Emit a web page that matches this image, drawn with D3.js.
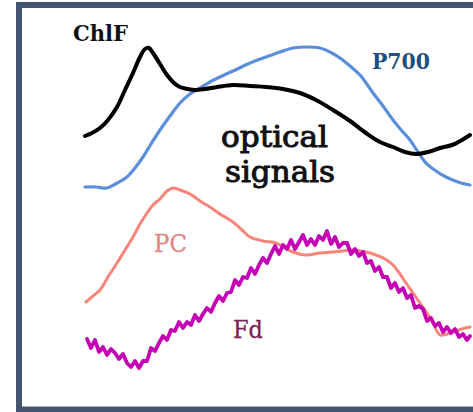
<!DOCTYPE html>
<html>
<head>
<meta http-equiv="Content-type" content="text/html; charset=utf-8">
<title>optical signals</title>
<script src="https://cdn.jsdelivr.net/npm/d3@7"></script>
<style>
  body { margin:0; background:#fff; }
  svg { display:block; }
</style>
</head>
<body>
<script>
  // time axis (arbitrary ms) and signal level (arbitrary units)

  var chlfT = [0,7,15,23,32,40,48,55,60,64,68,75,82,89,95,103,110,120,132,148,165,181,198,215,231,248,265,281,295,308,320,331,343,355,367,377,385];
  var chlfV = [269,272,277,285,298,315,332,348,356,357,352,341,330,322,318,316,315,316,318,320,319,318,316,312,305,295,284,272,263,258,253,251,253,257,260,265,270];

  var p700T = [0,11,22,32,42,50,58,66,75,85,95,105,115,125,135,148,165,181,195,208,221,235,245,255,265,275,288,298,308,317,325,333,341,351,361,373,385];
  var p700V = [218,218,217,222,228,237,248,261,275,289,302,311,317,323,328,334,342,348,353,357,358,357,353,347,339,330,312,299,285,274,265,253,242,234,228,223,220];

  var pcT = [1,8,15,23,32,40,48,55,62,68,75,82,88,95,105,115,125,135,148,157,165,178,191,200,208,221,235,248,268,281,291,300,308,315,321,328,335,342,348,355,362,368,377,385];
  var pcV = [103,109,115,128,142,155,168,181,192,200,206,214,217,215,211,204,198,191,183,175,168,164,162,157,153,150,152,153,155,153,150,146,140,131,122,112,102,92,82,70,71,73,76,78];

  var fdT = [2,6,10,14,18,22,26,30,34,38,42,46,50,54,58,62,66,70,74,78,82,86,90,94,98,102,106,110,114,118,122,126,130,134,138,142,146,150,154,158,162,166,170,174,178,182,186,190,194,198,202,206,210,214,218,222,226,230,234,238,242,246,250,254,258,262,266,270,274,278,282,286,290,294,298,302,306,310,314,318,322,326,330,334,338,342,346,350,354,358,362,366,370,374,378,382,385];
  var fdV = [66,57,65,53,58,50,56,52,46,51,42,38,44,37,44,44,57,54,62,69,65,75,74,83,77,83,80,90,84,91,97,93,102,109,104,112,113,125,120,128,127,137,131,140,147,142,151,159,151,160,156,165,156,163,170,160,166,160,169,165,174,161,168,158,162,162,151,156,149,153,142,144,134,138,128,128,117,122,113,117,107,110,97,99,96,84,87,79,82,73,78,72,76,68,71,65,69];

  var labels = ["ChlF", "P700", "PC", "Fd"];
  var title = ["optical", "signals"];

  var W = 473, H = 412;

  var svg = d3.select("body").append("svg")
    .attr("width", W)
    .attr("height", H);

  // frame, right edge runs off the picture
  svg.append("rect")
    .attr("x", 19).attr("y", 5)
    .attr("width", 500).attr("height", 404.5)
    .attr("fill", "#fff")
    .attr("stroke", "#475670")
    .attr("stroke-width", 6);

  var x = d3.scaleLinear().domain([0, 385]).range([85, 470]);
  var y = d3.scaleLinear().domain([0, 400]).range([405, 5]);

  function zip(ts, vs) {
    return ts.map(function (t, i) { return {t: t, v: vs[i]}; });
  }

  var smooth = d3.line()
    .x(function (d) { return x(d.t); })
    .y(function (d) { return y(d.v); })
    .curve(d3.curveCatmullRom);

  var jagged = d3.line()
    .x(function (d) { return x(d.t); })
    .y(function (d) { return y(d.v); })
    .curve(d3.curveLinear);

  var series = [
    {name:"p700", data: zip(p700T, p700V), color:"#5b8fdb", w:3.2, line: smooth},
    {name:"chlf", data: zip(chlfT, chlfV), color:"#000000", w:4, line: smooth},
    {name:"pc",   data: zip(pcT, pcV),     color:"#f9857a", w:3, line: smooth},
    {name:"fd",   data: zip(fdT, fdV),     color:"#c300b4", w:3.8, line: jagged}
  ];

  svg.selectAll("path.sig")
    .data(series)
    .enter().append("path")
    .attr("class", "sig")
    .attr("d", function (d) { return d.line(d.data); })
    .attr("fill", "none")
    .attr("stroke", function (d) { return d.color; })
    .attr("stroke-width", function (d) { return d.w; })
    .attr("stroke-linejoin", "round")
    .attr("stroke-linecap", "round");

  var font = "'DejaVu Serif', serif";

  var lab = [
    {txt: labels[0], x:73,  y:41,  size:22, weight:"bold",   color:"#111",    len:55, sw:0},
    {txt: labels[1], x:372, y:69,  size:22, weight:"bold",   color:"#1d4f82", len:58, sw:0},
    {txt: labels[2], x:154, y:252, size:24, weight:"normal", color:"#e58580", len:33, sw:0.3},
    {txt: labels[3], x:233, y:338, size:24, weight:"normal", color:"#7d2058", len:30, sw:0.3},
    {txt: title[0],  x:221, y:147, size:30, weight:"normal", color:"#111",    len:107, sw:1},
    {txt: title[1],  x:225, y:182, size:30, weight:"normal", color:"#111",    len:110, sw:1}
  ];

  svg.selectAll("text.lab")
    .data(lab)
    .enter().append("text")
    .attr("class", "lab")
    .attr("x", function (d) { return d.x; })
    .attr("y", function (d) { return d.y; })
    .attr("font-family", font)
    .attr("font-size", function (d) { return d.size; })
    .attr("font-weight", function (d) { return d.weight; })
    .attr("fill", function (d) { return d.color; })
    .attr("stroke", function (d) { return d.sw ? d.color : "none"; })
    .attr("stroke-width", function (d) { return d.sw; })
    .attr("textLength", function (d) { return d.len; })
    .attr("lengthAdjust", "spacingAndGlyphs")
    .text(function (d) { return d.txt; });
</script>
</body>
</html>
